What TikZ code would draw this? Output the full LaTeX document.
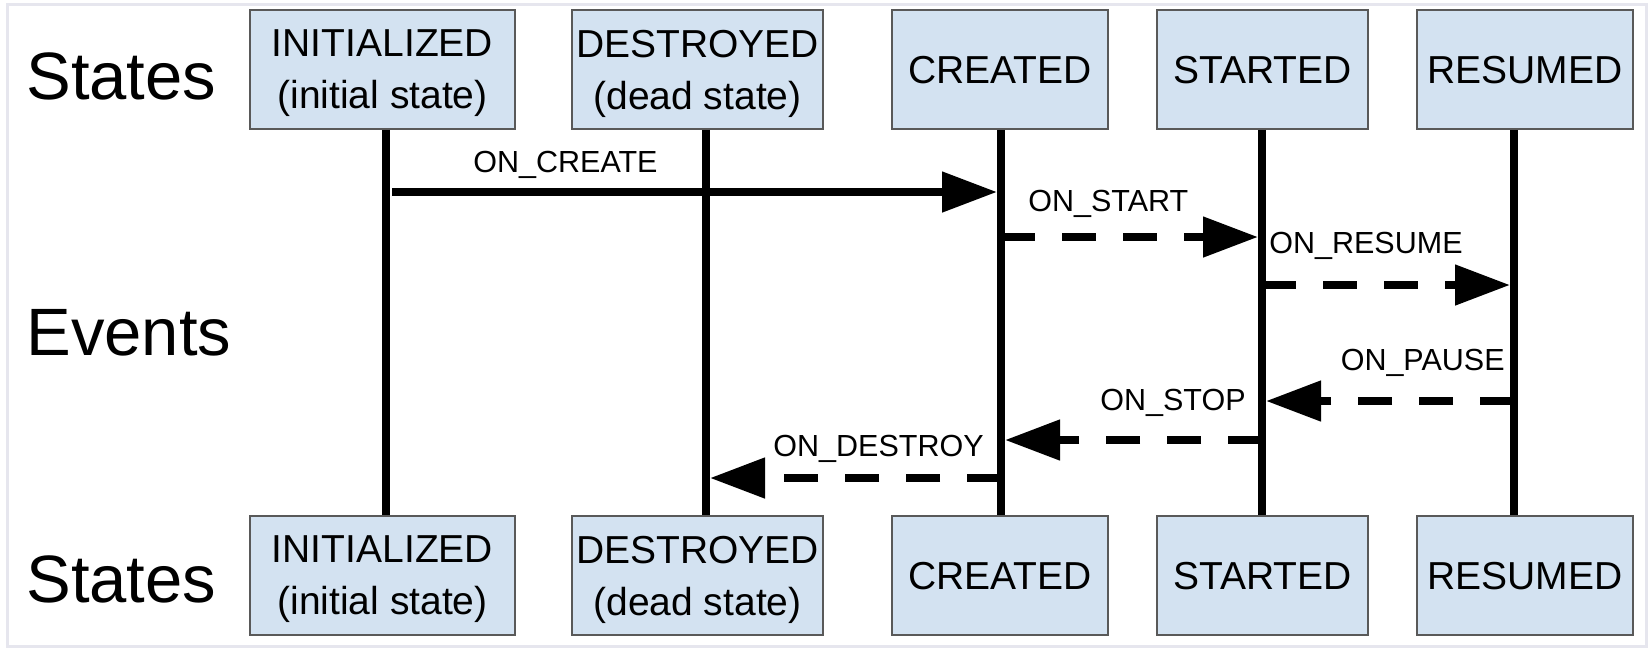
\documentclass[tikz,border=0pt]{standalone}
\usepackage{fontspec}
\setmainfont{Liberation Sans}
\usetikzlibrary{arrows.meta}
\definecolor{stateblue}{HTML}{D3E2F1}
\definecolor{framegray}{HTML}{E6E6EE}
\tikzset{
	state/.style={draw=black!65, line width=0.75pt, fill=stateblue, minimum height=59.5pt, inner sep=0pt, align=center, text depth=0pt, font=\fontsize{19.5}{26}\selectfont},
	lifeline/.style={line width=4pt},
	event/.style={line width=4pt, -{Triangle[length=27.5pt,width=19.5pt]}, shorten >=2pt},
	evdash/.style={event, dash pattern=on 17pt off 13.5pt},
	evlabel/.style={inner sep=0pt, font=\fontsize{15.25}{18}\selectfont},
	side/.style={inner sep=0pt, anchor=base west, font=\fontsize{33.5}{40}\selectfont}
}

\begin{document}
\begin{tikzpicture}[x=0.5pt, y=-0.5pt]
	\useasboundingbox (0,0) rectangle (1652,650);
	\draw[framegray, line width=1.5pt] (7,4) rectangle (1646,646);
	\node[side] (statesTop) at (26,99) {States};
	\node[side] (events) at (26,355) {Events};
	\node[side] (statesBot) at (26,602) {States};
	\node[state, minimum width=132.5pt] (initTop) at (382.5,69.5) {INITIALIZED\\(initial state)};
	\node[state, minimum width=125.5pt] (destroyedTop) at (697.5,69.5) {DESTROYED\\(dead state)};
	\node[state, minimum width=108pt] (createdTop) at (1000,69.5) {CREATED};
	\node[state, minimum width=105.5pt] (startedTop) at (1262.5,69.5) {STARTED};
	\node[state, minimum width=108pt] (resumedTop) at (1525,69.5) {RESUMED};
	\node[state, minimum width=132.5pt] (initBot) at (382.5,575.5) {INITIALIZED\\(initial state)};
	\node[state, minimum width=125.5pt] (destroyedBot) at (697.5,575.5) {DESTROYED\\(dead state)};
	\node[state, minimum width=108pt] (createdBot) at (1000,575.5) {CREATED};
	\node[state, minimum width=105.5pt] (startedBot) at (1262.5,575.5) {STARTED};
	\node[state, minimum width=108pt] (resumedBot) at (1525,575.5) {RESUMED};
	\coordinate (lInit) at (386,0);
	\coordinate (lDestroyed) at (706,0);
	\coordinate (lCreated) at (1001,0);
	\coordinate (lStarted) at (1262,0);
	\coordinate (lResumed) at (1514,0);
	\draw[lifeline] (initTop.south -| lInit) -- (initBot.north -| lInit);
	\draw[lifeline] (destroyedTop.south -| lDestroyed) -- (destroyedBot.north -| lDestroyed);
	\draw[lifeline] (createdTop.south -| lCreated) -- (createdBot.north -| lCreated);
	\draw[lifeline] (startedTop.south -| lStarted) -- (startedBot.north -| lStarted);
	\draw[lifeline] (resumedTop.south -| lResumed) -- (resumedBot.north -| lResumed);
	\coordinate (lvCreate) at (0,192);
	\coordinate (lvStart) at (0,237);
	\coordinate (lvResume) at (0,285);
	\coordinate (lvPause) at (0,401);
	\coordinate (lvStop) at (0,440);
	\coordinate (lvDestroy) at (0,478);
	\draw[event, shorten <=3pt] (lInit |- lvCreate) -- (lCreated |- lvCreate);
	\draw[evdash] (lCreated |- lvStart) -- (lStarted |- lvStart);
	\draw[evdash] (lStarted |- lvResume) -- (lResumed |- lvResume);
	\draw[evdash] (lResumed |- lvPause) -- (lStarted |- lvPause);
	\draw[evdash] (lStarted |- lvStop) -- (lCreated |- lvStop);
	\draw[evdash] (lCreated |- lvDestroy) -- (lDestroyed |- lvDestroy);
	\node[evlabel, anchor=base west] (onCreate) at (473,172) {ON\_CREATE};
	\node[evlabel, anchor=base west] (onStart) at (1028,211) {ON\_START};
	\node[evlabel, anchor=base west] (onResume) at (1269,253) {ON\_RESUME};
	\node[evlabel, anchor=base east] (onPause) at (1505,370) {ON\_PAUSE};
	\node[evlabel, anchor=base east] (onStop) at (1246,410) {ON\_STOP};
	\node[evlabel, anchor=base east] (onDestroy) at (984,456) {ON\_DESTROY};
\end{tikzpicture}
\end{document}
